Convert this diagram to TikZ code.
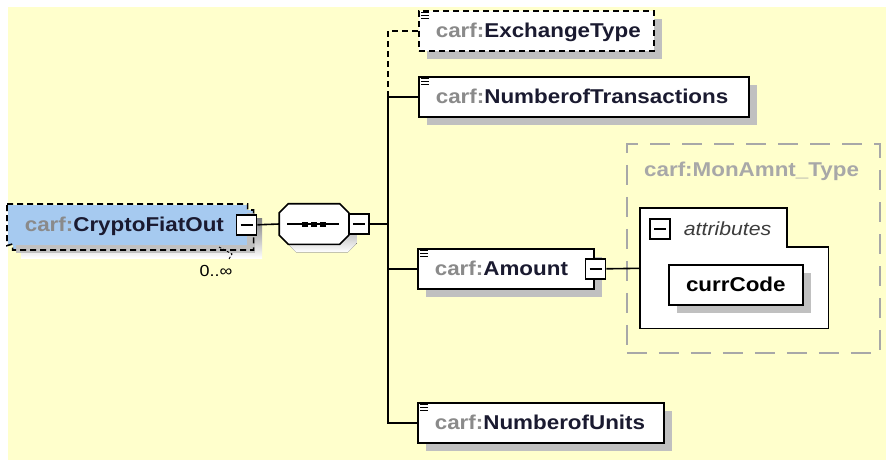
\documentclass[tikz,border=0pt]{standalone}
\usepackage{fontspec}
\setmainfont{Liberation Sans}[FakeStretch=1.12]
\usetikzlibrary{calc}
\usetikzlibrary{shadows}
\definecolor{paper}{RGB}{255,255,204}
\definecolor{rootblue}{RGB}{166,202,240}
\definecolor{shade}{RGB}{192,192,192}
\definecolor{pfx}{RGB}{138,138,138}
\definecolor{ink}{RGB}{26,26,48}
\definecolor{typegray}{RGB}{168,168,168}
\definecolor{attrgray}{RGB}{60,60,60}
\newcommand\seqoutline{([xshift=9pt]seq.north west) -- ([xshift=-9pt]seq.north east) -- ([shift={(0,9)}]seq.north east) -- ([shift={(0,-9)}]seq.south east) -- ([xshift=-9pt]seq.south east) -- ([xshift=9pt]seq.south west) -- ([shift={(0,-9)}]seq.south west) -- ([shift={(0,9)}]seq.north west) -- cycle}

\begin{document}
\begin{tikzpicture}[x=1pt,y=-1pt,line width=1.6pt,
  elem/.style={draw,fill=white,anchor=north west,minimum height=40pt,inner xsep=17pt,inner ysep=0pt,
    text height=15pt,text depth=2pt,align=left,text=ink,font=\fontsize{20}{22}\selectfont\bfseries,
    drop shadow={shadow xshift=8pt,shadow yshift=-8pt,fill=shade,draw=none,opacity=1}},
  dashbox/.style={dash pattern=on 6pt off 4pt},
  minusbox/.style={draw,fill=white,minimum size=20pt,inner sep=0pt,line width=1.4pt,
    path picture={\draw[line width=1.4pt] ([xshift=4pt]path picture bounding box.west) -- ([xshift=-4pt]path picture bounding box.east);}}]
\useasboundingbox (0,0) rectangle (886,460);
\fill[paper] (8,7) rectangle (886,460);

\coordinate (R) at (7,204);
\fill[shade] ($(R)+(14,14)$) rectangle ++(241,40);
\fill[rootblue] ($(R)+(6,6)$) rectangle ++(241,40);
\node[elem,draw=none,fill=rootblue,drop shadow={opacity=0},text width=205] (root) at (R) {\textcolor{pfx}{carf:}CryptoFiatOut};
\draw[dashbox] (root.north west) -- (root.north east) -- ++(0,6) -- ++(6,0) -- ++(0,40) -- ++(-241,0) -- ++(0,-6) -- (root.south west) -- cycle;
\node[minusbox] (rootminus) at ([xshift=-1pt]root.east) {};
\draw[line width=0.9pt,dash pattern=on 2.5pt off 2pt] (219,247) -- (232,254) -- (229,259);
\node[font=\fontsize{16}{18}\selectfont] (occurs) at (216,271) {0..∞};

\node[minimum width=68pt,minimum height=39pt,inner sep=0pt] (seq) at (314,224) {};
\fill[shade,transform canvas={shift={(8,8)}}] \seqoutline;
\filldraw[fill=white] \seqoutline;
\draw[line width=1.3pt] ([xshift=8pt]seq.west) -- ([xshift=-10pt]seq.east);
\foreach \dx in {-9,0,9}
  \fill ([shift={(\dx,0)}]seq.center) +(-3,-2.5) rectangle +(3,2.5);
\node[minusbox] (seqminus) at ([xshift=10pt]seq.east) {};
\coordinate (bus) at (388,224);

\node[elem,dashbox,text width=201] (xtype) at (418,10) {\textcolor{pfx}{carf:}ExchangeType};
\node[elem,text width=296] (ntrans) at (418,76) {\textcolor{pfx}{carf:}NumberofTransactions};
\node[elem,text width=142] (amount) at (417,248) {\textcolor{pfx}{carf:}Amount};
\node[elem,text width=212] (nunits) at (417,402) {\textcolor{pfx}{carf:}NumberofUnits};
\node[minusbox] (amtminus) at ([xshift=1pt]amount.east) {};
\foreach \n in {xtype,ntrans,amount,nunits}
  \foreach \dy in {2.5,5.5,8.5}
    \draw[line width=1.3pt] ([shift={(3,\dy)}]\n.north west) -- ++(8,0);

\node[draw=typegray,line width=1.6pt,dash pattern=on 20pt off 12pt,anchor=north west,minimum width=253pt,minimum height=209pt,inner sep=0pt] (montype) at (626,143) {};
\node[anchor=base west,text=typegray,font=\fontsize{20}{22}\selectfont\bfseries] (montitle) at (640,176) {carf:MonAmnt\_Type};
\node[anchor=north west,minimum width=187pt,minimum height=119pt,inner sep=0pt] (attrs) at (640,208) {};
\draw[fill=white] (attrs.north west) -- ++(147,0) |- ($(attrs.north east)+(0,39)$) -- (attrs.south east) -- (attrs.south west) -- cycle;
\node[minusbox] (attrminus) at ([shift={(20,21)}]attrs.north west) {};
\node[anchor=west,text=attrgray,font=\fontsize{19}{22}\selectfont\itshape] (attrlabel) at ([xshift=9pt]attrminus.east) {attributes};
\node[elem,text=black,align=center,text width=100] (curr) at (668,264) {currCode};

\draw (rootminus.east) -- (seq.west);
\draw (seqminus.east) -- (bus);
\draw[dashbox] (ntrans.west -| bus) |- (xtype.west);
\draw (ntrans.west) -- (ntrans.west -| bus) -- (nunits.west -| bus) -- (nunits.west);
\draw (amount.west) -- (amount.west -| bus);
\draw (amtminus.east) -- (attrs.west);
\end{tikzpicture}
\end{document}
